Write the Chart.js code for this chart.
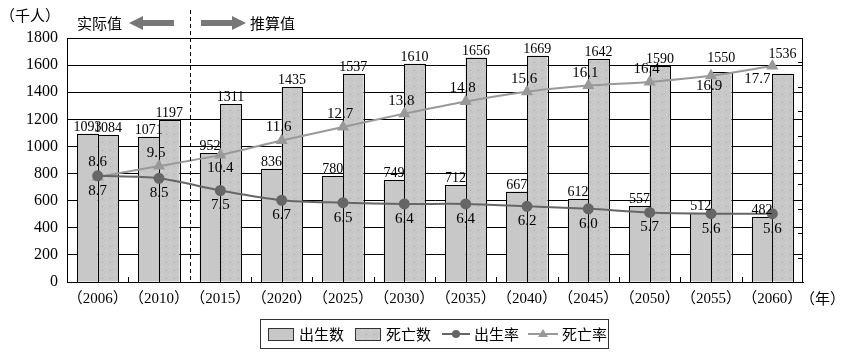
<!DOCTYPE html>
<html>
<head>
<meta charset="utf-8">
<script src="https://cdn.jsdelivr.net/npm/chart.js@4.4.1/dist/chart.umd.min.js"></script>
<style>
  html, body { margin: 0; padding: 0; background: #fff; }
  #wrap { width: 847px; height: 363px; }
</style>
</head>
<body>
<div id="wrap"><canvas id="popChart" width="847" height="363"></canvas></div>
<script>
// 数据（千人 / ‰）
const years = ['（2006）', '（2010）', '（2015）', '（2020）', '（2025）', '（2030）',
               '（2035）', '（2040）', '（2045）', '（2050）', '（2055）', '（2060）'];
const births = [1093, 1071, 952, 836, 780, 749, 712, 667, 612, 557, 512, 482];
const deaths = [1084, 1197, 1311, 1435, 1537, 1610, 1656, 1669, 1642, 1590, 1550, 1536];
const birthRate = [8.7, 8.5, 7.5, 6.7, 6.5, 6.4, 6.4, 6.2, 6.0, 5.7, 5.6, 5.6];
const deathRate = [8.6, 9.5, 10.4, 11.6, 12.7, 13.8, 14.8, 15.6, 16.1, 16.4, 16.9, 17.7];

const numFont = '"Liberation Serif", "DejaVu Serif", serif';
const cjkFont = '"Noto Sans CJK SC", "Noto Sans CJK JP", sans-serif';
const barGray = '#c8c8c8';
const birthLine = '#666666';
const deathLine = '#999999';

// 点状填充
function dotPattern() {
    const c = document.createElement('canvas');
    c.width = 8; c.height = 8;
    const g = c.getContext('2d');
    g.fillStyle = barGray;
    g.fillRect(0, 0, 8, 8);
    g.fillStyle = '#e2e2e2';
    g.fillRect(2, 2, 1, 1);
    g.fillStyle = '#a6a6a6';
    g.fillRect(6, 6, 1, 1);
    return g.createPattern(c, 'repeat');
}
const dots = dotPattern();

const decor = {
    id: 'decor',
    beforeDraw(chart) {
        const ctx = chart.ctx;
        ctx.save();
        ctx.fillStyle = '#fff';
        ctx.fillRect(0, 0, chart.width, chart.height);
        ctx.restore();
    },
    // 柱子边框（对齐像素）
    afterDatasetDraw(chart, args) {
        if (args.index > 1) return;
        const ctx = chart.ctx;
        ctx.save();
        ctx.strokeStyle = '#000';
        ctx.lineWidth = 1;
        args.meta.data.forEach(el => {
            const l = Math.round(el.x - el.width / 2);
            const r = Math.round(el.x + el.width / 2);
            const t = Math.round(el.y);
            const b = Math.round(el.base);
            ctx.strokeRect(l + 0.5, t + 0.5, r - l, b - t);
        });
        ctx.restore();
    },
    afterDatasetsDraw(chart) {
        const { ctx, chartArea: a, scales } = chart;
        const x = scales.x, y1 = scales.y1;
        ctx.save();

        // 柱顶数值
        ctx.fillStyle = '#000';
        ctx.font = '14px ' + numFont;
        ctx.textAlign = 'center';
        ctx.textBaseline = 'alphabetic';
        [0, 1].forEach(di => {
            chart.getDatasetMeta(di).data.forEach((el, i) => {
                let lift = 3;
                if (di === 1 && i === 10) lift = 10;
                if (di === 1 && i === 11) lift = 16;
                ctx.fillText(String(chart.data.datasets[di].data[i]), el.x, el.y - lift);
            });
        });

        // 比率数值
        ctx.font = '15px ' + numFont;
        ctx.textBaseline = 'middle';
        chart.getDatasetMeta(2).data.forEach((el, i) => {
            ctx.fillText(birthRate[i].toFixed(1), el.x, el.y + 15);
        });
        chart.getDatasetMeta(3).data.forEach((el, i) => {
            let dx = -3, dy = -13;
            if (i === 2) { dx = 0; dy = 13; }
            if (i === 10) { dx = -2; dy = 10; }
            if (i === 11) { dx = -15; dy = 13; }
            if (i === 0) { dx = 0; dy = -15; }
            ctx.fillText(deathRate[i].toFixed(1), el.x + dx, el.y + dy);
        });

        // 外框
        ctx.strokeStyle = '#000';
        ctx.lineWidth = 1;
        ctx.strokeRect(a.left + 0.5, a.top + 0.5, a.right - a.left - 1, a.bottom - a.top);

        // 分类间刻度（向内）
        for (let i = 0; i < years.length - 1; i++) {
            const bx = Math.round((x.getPixelForTick(i) + x.getPixelForTick(i + 1)) / 2) + 0.5;
            if (i === 1) continue;
            ctx.beginPath();
            ctx.moveTo(bx, a.bottom);
            ctx.lineTo(bx, a.bottom - 5);
            ctx.stroke();
        }
        // 右轴刻度（向内）
        for (let v = 0; v <= 20; v += 2) {
            const ty = Math.round(y1.getPixelForValue(v)) + 0.5;
            ctx.beginPath();
            ctx.moveTo(a.right, ty);
            ctx.lineTo(a.right - 5, ty);
            ctx.stroke();
        }

        // 实际值 / 推算值 分界
        const sx = Math.round((x.getPixelForTick(1) + x.getPixelForTick(2)) / 2) + 0.5;
        ctx.setLineDash([4, 3]);
        ctx.beginPath();
        ctx.moveTo(sx, 10);
        ctx.lineTo(sx, a.bottom);
        ctx.stroke();
        ctx.setLineDash([]);

        // 箭头
        ctx.fillStyle = '#777';
        ctx.beginPath();
        ctx.moveTo(129, 23);
        ctx.lineTo(143, 16);
        ctx.lineTo(143, 20);
        ctx.lineTo(174, 20);
        ctx.lineTo(174, 26);
        ctx.lineTo(143, 26);
        ctx.lineTo(143, 30);
        ctx.closePath();
        ctx.fill();
        ctx.beginPath();
        ctx.moveTo(246, 23);
        ctx.lineTo(232, 16);
        ctx.lineTo(232, 20);
        ctx.lineTo(201, 20);
        ctx.lineTo(201, 26);
        ctx.lineTo(232, 26);
        ctx.lineTo(232, 30);
        ctx.closePath();
        ctx.fill();

        ctx.fillStyle = '#000';
        ctx.font = '15px ' + cjkFont;
        ctx.textAlign = 'left';
        ctx.textBaseline = 'middle';
        ctx.fillText('实际值', 77, 23);
        ctx.fillText('推算值', 250, 23);
        ctx.fillText('（千人）', 0, 15);
        ctx.fillText('（年）', 800, 298);

        // 图例
        ctx.strokeStyle = '#333';
        ctx.strokeRect(260.5, 319.5, 348, 29);
        ctx.fillStyle = barGray;
        ctx.fillRect(268, 328, 25, 12);
        ctx.strokeRect(268.5, 328.5, 25, 12);
        ctx.fillStyle = dots;
        ctx.fillRect(355, 328, 25, 12);
        ctx.strokeRect(355.5, 328.5, 25, 12);

        ctx.lineWidth = 2;
        ctx.strokeStyle = birthLine;
        ctx.beginPath(); ctx.moveTo(442, 334); ctx.lineTo(470, 334); ctx.stroke();
        ctx.fillStyle = birthLine;
        ctx.beginPath(); ctx.arc(456, 334, 4, 0, Math.PI * 2); ctx.fill();
        ctx.strokeStyle = deathLine;
        ctx.beginPath(); ctx.moveTo(528, 334); ctx.lineTo(558, 334); ctx.stroke();
        ctx.fillStyle = deathLine;
        ctx.beginPath(); ctx.moveTo(543, 329); ctx.lineTo(548, 337); ctx.lineTo(538, 337); ctx.closePath(); ctx.fill();

        ctx.fillStyle = '#000';
        ctx.font = '15px ' + cjkFont;
        ctx.fillText('出生数', 299, 334);
        ctx.fillText('死亡数', 386, 334);
        ctx.fillText('出生率', 474, 334);
        ctx.fillText('死亡率', 562, 334);
        ctx.restore();
    }
};

const ctx = document.getElementById('popChart').getContext('2d');
new Chart(ctx, {
    type: 'bar',
    data: {
        labels: years,
        datasets: [
            {
                label: '出生数',
                data: births,
                backgroundColor: barGray,
                borderWidth: 0,
                categoryPercentage: 0.67,
                barPercentage: 1,
                yAxisID: 'y',
                order: 2
            },
            {
                label: '死亡数',
                data: deaths,
                backgroundColor: dots,
                borderWidth: 0,
                categoryPercentage: 0.67,
                barPercentage: 1,
                yAxisID: 'y',
                order: 2
            },
            {
                type: 'line',
                label: '出生率',
                data: birthRate,
                borderColor: birthLine,
                backgroundColor: birthLine,
                borderWidth: 2,
                tension: 0.3,
                pointStyle: 'circle',
                pointRadius: 4.5,
                yAxisID: 'y1',
                order: 0
            },
            {
                type: 'line',
                label: '死亡率',
                data: deathRate,
                borderColor: deathLine,
                backgroundColor: deathLine,
                borderWidth: 2,
                tension: 0.2,
                pointStyle: 'triangle',
                pointRadius: 5,
                yAxisID: 'y1',
                order: 1
            }
        ]
    },
    options: {
        responsive: false,
        animation: false,
        layout: { padding: { top: 38, right: 44, left: 0, bottom: 0 } },
        plugins: { legend: { display: false }, tooltip: { enabled: false } },
        scales: {
            x: {
                grid: { display: false, drawTicks: false },
                border: { color: '#000' },
                ticks: { color: '#000', font: { size: 15, family: numFont + ', ' + cjkFont }, padding: 8, maxRotation: 0, autoSkip: false },
                afterFit(s) { s.height = 81; }
            },
            y: {
                min: 0,
                max: 1800,
                ticks: { stepSize: 200, color: '#000', font: { size: 16, family: numFont }, padding: 9, callback: v => String(v) },
                grid: { color: '#000', lineWidth: 1, drawTicks: false },
                border: { color: '#000' },
                afterFit(s) { s.width = 67; }
            },
            y1: {
                display: false,
                position: 'right',
                min: 0,
                max: 20
            }
        }
    },
    plugins: [decor]
});
</script>
</body>
</html>
